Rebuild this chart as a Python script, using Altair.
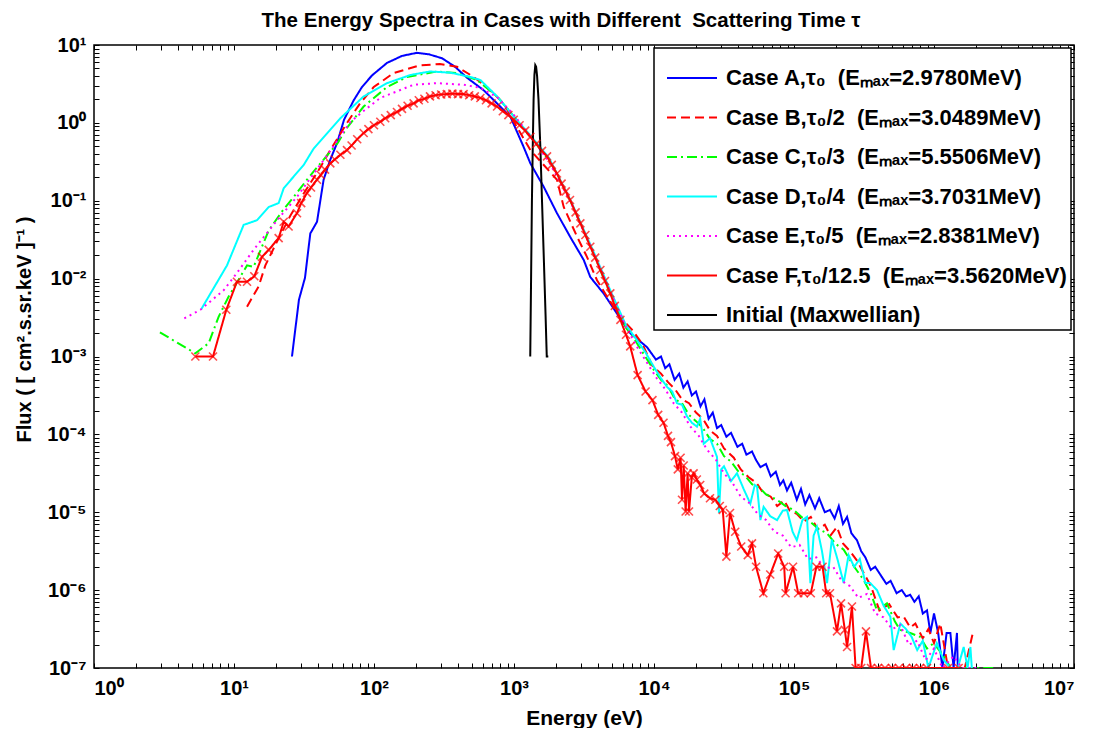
import altair as alt
import pandas as pd

FONT = "Liberation Sans, Arial, Helvetica, sans-serif"

# ---- data: pairs of (log10 Energy [eV], log10 Flux) ----
case_a = [(1.414,-3.0),(1.464,-2.27),(1.507,-1.99),(1.545,-1.42),(1.593,-1.27),(1.64,-0.73),(1.686,-0.48),(1.736,-0.26),
          (1.786,0.04),(1.855,0.29),(1.914,0.46),(1.986,0.61),(2.093,0.77),(2.2,0.86),(2.307,0.90),(2.393,0.88),(2.486,0.83),
          (2.579,0.72),(2.664,0.58),(2.783,0.42),(2.879,0.25),(2.974,0.08),(3.069,-0.31),(3.117,-0.52),(3.212,-0.82),
          (3.307,-1.16),(3.40,-1.46),(3.498,-1.76),(3.545,-1.98),(3.64,-2.19),(3.736,-2.45),(3.83,-2.70),(3.95,-2.88),
          (4.014,-3.04),(4.05,-3.00),(4.08,-3.15),(4.11,-3.10),(4.147,-3.30),(4.18,-3.22),(4.21,-3.40),(4.24,-3.32),
          (4.27,-3.50),(4.30,-3.45),(4.332,-3.64),(4.36,-3.55),(4.39,-3.80),(4.42,-3.72),(4.45,-3.92),(4.48,-3.88),
          (4.517,-4.03),(4.55,-3.98),(4.596,-4.16),(4.63,-4.12),(4.66,-4.26),(4.70,-4.22),(4.729,-4.33),(4.76,-4.42),
          (4.80,-4.38),(4.834,-4.54),(4.87,-4.48),(4.90,-4.65),(4.924,-4.59),(4.95,-4.72),(4.98,-4.62),(5.02,-4.84),
          (5.05,-4.70),(5.08,-4.90),(5.11,-4.78),(5.15,-4.95),(5.18,-4.82),(5.22,-5.00),(5.257,-4.97),(5.29,-5.08),
          (5.32,-4.92),(5.35,-5.15),(5.379,-5.06),(5.41,-5.27),(5.45,-5.36),(5.48,-5.50),(5.51,-5.58),(5.548,-5.74),
          (5.58,-5.70),(5.627,-5.83),(5.66,-5.92),(5.69,-5.88),(5.733,-6.04),(5.77,-6.00),(5.80,-6.08),(5.83,-6.06),
          (5.86,-6.15),(5.891,-6.08),(5.92,-6.30),(5.95,-6.26),(5.974,-6.55),(6.00,-6.30),(6.03,-6.55),(6.06,-7.0),
          (6.09,-6.55),(6.117,-6.55),(6.14,-7.0),(6.164,-6.55),(6.17,-7.0)]

case_b = [(1.093,-2.36),(1.176,-2.10),(1.224,-1.83),(1.30,-1.55),(1.40,-1.20),(1.50,-0.90),(1.60,-0.62),(1.688,-0.35),
          (1.80,-0.02),(1.90,0.25),(1.998,0.46),(2.14,0.64),(2.33,0.74),(2.47,0.755),(2.593,0.72),(2.712,0.59),(2.83,0.42),
          (2.926,0.25),(3.02,-0.05),(3.117,-0.35),(3.307,-0.73),(3.355,-1.08),(3.45,-1.46),(3.521,-1.72),(3.593,-2.02),
          (3.664,-2.23),(3.76,-2.50),(3.85,-2.67),(3.92,-2.85),(3.989,-3.12),(4.05,-3.22),(4.10,-3.33),(4.15,-3.42),
          (4.20,-3.55),(4.25,-3.60),(4.30,-3.72),(4.35,-3.80),(4.40,-3.95),(4.45,-4.02),(4.50,-4.18),(4.57,-4.30),
          (4.62,-4.45),(4.676,-4.55),(4.73,-4.62),(4.78,-4.75),(4.834,-4.80),(4.88,-4.92),(4.93,-4.85),(4.97,-4.98),
          (5.02,-5.02),(5.07,-5.12),(5.12,-5.06),(5.17,-5.22),(5.22,-5.16),(5.26,-5.30),(5.307,-5.19),(5.35,-5.40),
          (5.40,-5.50),(5.45,-5.62),(5.498,-5.78),(5.55,-5.95),(5.61,-6.26),(5.68,-6.18),(5.74,-6.35),(5.783,-6.34),
          (5.83,-6.48),(5.867,-6.43),(5.92,-6.62),(5.96,-6.50),(6.00,-6.68),(6.045,-6.43),(6.10,-7.0),(6.22,-7.0),
          (6.28,-6.53)]

case_c = [(0.471,-2.69),(0.724,-2.96),(0.819,-2.83),(0.89,-2.49),(0.962,-2.23),(1.093,-1.83),(1.14,-1.85),(1.248,-1.38),
          (1.35,-1.12),(1.44,-0.92),(1.521,-0.73),(1.617,-0.52),(1.74,-0.26),(1.80,-0.08),(1.926,0.21),(2.093,0.46),
          (2.236,0.59),(2.45,0.66),(2.593,0.64),(2.736,0.55),(2.879,0.34),(3.0,0.08),(3.117,-0.18),(3.26,-0.50),
          (3.40,-0.99),(3.55,-1.60),(3.70,-2.25),(3.80,-2.63),(3.85,-2.75),(3.92,-2.95),(3.99,-3.15),(4.05,-3.30),
          (4.10,-3.38),(4.15,-3.55),(4.20,-3.60),(4.25,-3.75),(4.30,-3.83),(4.35,-3.92),(4.40,-4.06),(4.45,-4.12),
          (4.50,-4.28),(4.55,-4.35),(4.60,-4.47),(4.65,-4.53),(4.70,-4.64),(4.75,-4.68),(4.80,-4.77),(4.879,-4.84),
          (4.94,-4.92),(4.998,-4.97),(5.06,-5.07),(5.12,-5.13),(5.18,-5.22),(5.236,-5.27),(5.30,-5.41),(5.355,-5.48),
          (5.43,-5.70),(5.498,-5.87),(5.55,-6.05),(5.593,-6.26),(5.664,-6.17),(5.72,-6.40),(5.757,-6.51),(5.83,-6.55),
          (5.90,-6.60),(5.95,-6.75),(5.998,-6.68),(6.07,-6.85),(6.12,-7.0),(6.43,-7.0)]

case_d = [(0.767,-2.39),(0.95,-1.83),(1.069,-1.31),(1.164,-1.25),(1.248,-1.08),(1.319,-1.03),(1.355,-0.84),(1.426,-0.69),
          (1.498,-0.54),(1.569,-0.33),(1.76,0.06),(1.926,0.34),(2.093,0.51),(2.26,0.615),(2.40,0.66),(2.545,0.645),
          (2.688,0.59),(2.76,0.55),(2.879,0.34),(3.0,0.08),(3.117,-0.16),(3.25,-0.45),(3.40,-0.98),(3.55,-1.58),
          (3.70,-2.20),(3.80,-2.60),(3.879,-2.79),(3.94,-2.95),(3.998,-3.13),(4.05,-3.28),(4.093,-3.39),(4.13,-3.45),
          (4.164,-3.60),(4.20,-3.62),(4.236,-3.77),(4.27,-3.85),(4.307,-3.90),(4.33,-3.80),(4.355,-4.12),(4.40,-4.05),
          (4.45,-4.29),(4.464,-5.01),(4.48,-4.45),(4.50,-4.41),(4.55,-4.60),(4.593,-4.50),(4.64,-4.70),(4.688,-4.89),
          (4.72,-4.65),(4.736,-4.67),(4.76,-5.10),(4.783,-4.93),(4.83,-5.05),(4.879,-5.10),(4.92,-4.98),(4.95,-4.97),
          (4.99,-5.25),(5.02,-5.36),(5.06,-5.10),(5.093,-5.06),(5.117,-5.91),(5.14,-5.30),(5.164,-5.19),(5.20,-5.50),
          (5.236,-5.91),(5.27,-5.35),(5.31,-5.60),(5.355,-5.91),(5.39,-5.55),(5.43,-5.70),(5.47,-5.60),(5.51,-5.91),
          (5.545,-5.91),(5.593,-6.00),(5.64,-6.20),(5.688,-6.34),(5.712,-6.77),(5.76,-6.43),(5.80,-6.50),(5.84,-6.60),
          (5.88,-6.77),(5.92,-6.65),(5.96,-7.0),(6.02,-6.68),(6.07,-6.90),(6.12,-7.0),(6.17,-7.0),(6.212,-6.73),
          (6.24,-7.0),(6.26,-6.73),(6.27,-7.0)]

case_e = [(0.645,-2.51),(0.76,-2.40),(0.926,-2.15),(1.02,-1.93),(1.14,-1.63),(1.224,-1.44),(1.331,-1.20),(1.45,-0.95),
          (1.55,-0.70),(1.68,-0.38),(1.83,0.01),(1.93,0.16),(2.045,0.32),(2.283,0.49),(2.45,0.51),(2.64,0.49),
          (2.76,0.45),(2.88,0.33),(3.0,0.10),(3.12,-0.18),(3.25,-0.50),(3.40,-1.00),(3.55,-1.60),(3.70,-2.22),
          (3.80,-2.62),(3.88,-2.88),(3.95,-3.08),(4.02,-3.28),(4.08,-3.42),(4.14,-3.60),(4.20,-3.72),(4.26,-3.90),
          (4.32,-4.02),(4.38,-4.20),(4.44,-4.32),(4.50,-4.50),(4.56,-4.62),(4.62,-4.80),(4.68,-4.88),(4.74,-5.02),
          (4.80,-5.10),(4.86,-5.25),(4.92,-5.30),(4.98,-5.45),(5.04,-5.42),(5.10,-5.60),(5.16,-5.58),(5.22,-5.72),
          (5.28,-5.70),(5.34,-5.88),(5.40,-5.95),(5.46,-6.10),(5.52,-6.05),(5.58,-6.30),(5.64,-6.35),(5.70,-6.50),
          (5.76,-6.45),(5.82,-6.70),(5.88,-6.65),(5.94,-6.90),(6.00,-6.75),(6.06,-7.0),(6.14,-6.85),(6.20,-7.0),(6.33,-7.0)]

case_f = [(0.724,-3.0),(0.85,-3.0),(0.945,-2.40),(1.021,-2.04),(1.093,-2.04),(1.145,-1.97),(1.20,-1.72),(1.248,-1.63),
          (1.319,-1.48),(1.355,-1.27),(1.39,-1.33),(1.45,-1.16),(1.48,-1.03),(1.521,-0.90),(1.55,-0.83),(1.593,-0.73),
          (1.62,-0.67),(1.65,-0.60),(1.688,-0.52),(1.72,-0.47),(1.76,-0.41),(1.807,-0.35),(1.84,-0.29),(1.88,-0.21),
          (1.926,-0.13),(1.96,-0.08),(2.00,-0.03),(2.045,0.015),(2.08,0.06),(2.12,0.10),(2.164,0.14),(2.20,0.18),
          (2.24,0.22),(2.283,0.25),(2.32,0.29),(2.36,0.31),(2.40,0.34),(2.44,0.355),(2.48,0.365),(2.52,0.37),
          (2.56,0.375),(2.60,0.37),(2.64,0.37),(2.68,0.355),(2.72,0.34),(2.76,0.32),(2.80,0.29),(2.84,0.25),
          (2.879,0.21),(2.92,0.15),(2.96,0.10),(2.998,0.04),(3.04,-0.03),(3.08,-0.10),(3.117,-0.18),(3.16,-0.27),
          (3.20,-0.36),(3.236,-0.43),(3.27,-0.54),(3.307,-0.65),(3.34,-0.78),(3.37,-0.88),(3.40,-0.99),(3.44,-1.15),
          (3.474,-1.29),(3.51,-1.44),(3.545,-1.59),(3.58,-1.73),(3.617,-1.89),(3.65,-2.03),(3.688,-2.19),(3.72,-2.35),
          (3.76,-2.53),(3.80,-2.72),(3.83,-2.87),(3.883,-3.24),(3.94,-3.45),(3.989,-3.56),(4.03,-3.75),(4.068,-3.85),
          (4.10,-4.02),(4.121,-4.10),(4.15,-4.28),(4.17,-4.45),(4.19,-4.30),(4.20,-4.84),(4.212,-4.40),(4.226,-4.99),
          (4.24,-4.50),(4.25,-4.99),(4.27,-4.55),(4.283,-4.50),(4.306,-4.58),(4.33,-4.65),(4.359,-4.76),(4.40,-4.82),
          (4.438,-4.84),(4.47,-4.92),(4.491,-4.97),(4.517,-5.57),(4.543,-5.01),(4.58,-5.25),(4.623,-5.44),(4.67,-5.55),
          (4.70,-5.40),(4.729,-5.70),(4.781,-6.04),(4.83,-5.80),(4.887,-5.53),(4.93,-5.70),(4.94,-6.04),(4.993,-5.70),
          (5.03,-6.04),(5.07,-6.04),(5.12,-6.04),(5.16,-5.70),(5.204,-5.70),(5.23,-6.04),(5.257,-6.04),(5.307,-6.53),
          (5.336,-6.17),(5.363,-6.51),(5.379,-6.73),(5.414,-6.21),(5.44,-7.0),(5.48,-7.0),(5.514,-6.53),(5.55,-7.0),
          (5.60,-7.0),(5.65,-7.0),(5.70,-7.0),(5.75,-7.0),(5.80,-7.0),(5.85,-7.0),(5.90,-7.0),(5.95,-7.0),(6.10,-7.0),
          (6.176,-7.0)]

initial = [(3.116,-3.0),(3.122,-2.0),(3.128,-1.0),(3.134,-0.3),(3.140,0.3),(3.146,0.62),(3.152,0.74),(3.158,0.72),
           (3.165,0.6),(3.175,0.3),(3.188,-0.3),(3.200,-1.0),(3.214,-1.8),(3.226,-2.5),(3.234,-3.0),(3.245,-3.0)]

NB = "\u00a0"
names = [
    f"Case A,τ₀{NB} (Eₘₐₓ=2.9780MeV)",
    f"Case B,τ₀/2{NB} (Eₘₐₓ=3.0489MeV)",
    f"Case C,τ₀/3{NB} (Eₘₐₓ=5.5506MeV)",
    f"Case D,τ₀/4{NB} (Eₘₐₓ=3.7031MeV)",
    f"Case E,τ₀/5{NB} (Eₘₐₓ=2.8381MeV)",
    f"Case F,τ₀/12.5{NB} (Eₘₐₓ=3.5620MeV)",
    "Initial (Maxwellian)",
]
series_points = [case_a, case_b, case_c, case_d, case_e, case_f, initial]
colors = ["#0000ff", "#ff0000", "#00ff00", "#00ffff", "#ff00ff", "#ff0000", "#000000"]
dashes = [[1, 0], [9, 5], [10, 4, 2, 4], [1, 0], [2, 4], [1, 0], [1, 0]]
widths = [2, 2, 2, 2, 2, 2, 3.5]

rows = []
for name, pts in zip(names, series_points):
    for j, (le, lf) in enumerate(pts):
        rows.append({"series": name, "E": 10 ** le, "flux": 10 ** lf, "idx": j})
df = pd.DataFrame(rows)
df_f = df[df["series"] == names[5]]

xvals = [m * 10 ** d for d in range(0, 7) for m in range(1, 10)] + [1e7]
yvals = [m * 10.0 ** d for d in range(-7, 1) for m in range(1, 10)] + [10]

sup = "['⁻⁷','⁻⁶','⁻⁵','⁻⁴','⁻³','⁻²','⁻¹','⁰','¹','²','³','⁴','⁵','⁶','⁷']"
lg = "(log(datum.value)/LN10)"
is_dec = f"abs({lg} - round({lg})) < 0.01"
label_expr = f"({is_dec}) ? ('10' + {sup}[round({lg}) + 7]) : ''"

TICK = 5
# inward-pointing ticks: the axis line is pulled inside by TICK, ticks run out to the frame
tick_style = dict(grid=False, domain=False, offset=-TICK, tickSize=TICK, tickColor="black", tickWidth=1)
label_style = dict(labelExpr=label_expr, labelFont=FONT, labelFontSize=20, labelFontWeight="bold",
                   labelColor="black", labelOverlap=False,
                   titleFont=FONT, titleFontWeight="bold", titleColor="black")

xscale = alt.Scale(type="log", domain=[1, 1e7], nice=False)
yscale = alt.Scale(type="log", domain=[1e-7, 10], nice=False)

x_bottom = alt.X("E:Q", scale=xscale,
                 axis=alt.Axis(orient="bottom", values=xvals, title="Energy (eV)", titleFontSize=21,
                               titlePadding=9, labelPadding=10, **tick_style, **label_style))
y_left = alt.Y("flux:Q", scale=yscale,
               axis=alt.Axis(orient="left", values=yvals, title="Flux ( [ cm².s.sr.keV ]⁻¹ )",
                             titleFontSize=20, titlePadding=12, titleY=284, labelPadding=8,
                             **tick_style, **label_style))
x_top = alt.X("E:Q", scale=xscale,
              axis=alt.Axis(orient="top", values=xvals, labels=False, title=None, **tick_style))
y_right = alt.Y("flux:Q", scale=yscale,
                axis=alt.Axis(orient="right", values=yvals, labels=False, title=None, **tick_style))

lines = alt.Chart(df).mark_line(clip=True).encode(
    x=x_bottom,
    y=y_left,
    color=alt.Color("series:N", scale=alt.Scale(domain=names, range=colors),
                    legend=alt.Legend(title=None)),
    strokeDash=alt.StrokeDash("series:N", scale=alt.Scale(domain=names, range=dashes),
                              legend=alt.Legend(title=None)),
    strokeWidth=alt.StrokeWidth("series:N", scale=alt.Scale(domain=names, range=widths), legend=None),
    order="idx:Q",
)

markers = alt.Chart(df_f).mark_point(
    shape="M-1,-1L1,1M1,-1L-1,1", filled=False, size=64, strokeWidth=1.6, color="#ff0000", clip=True
).encode(x=x_top, y=y_right)

chart = alt.layer(lines, markers).resolve_scale(
    x="independent", y="independent"
).properties(
    width=980,
    height=623,
    padding={"left": 6, "top": 2, "right": 0, "bottom": 0},
    title=alt.Title("The Energy Spectra in Cases with Different\u00a0 Scattering Time τ",
                    font=FONT, fontSize=20.5, fontWeight="bold", color="black",
                    offset=4, dx=-23, anchor="middle"),
).configure_view(
    stroke="black", strokeWidth=1.5
).configure_legend(
    orient="top-right", offset=3, fillColor="white", strokeColor="black", strokeWidth=1.5,
    padding=4, labelFont=FONT, labelFontSize=22, labelFontWeight="bold", labelColor="black",
    symbolType="stroke", symbolSize=2500, symbolStrokeWidth=2, symbolOffset=8, rowPadding=2.5,
    labelLimit=700, labelOffset=8, cornerRadius=0,
)

chart.save("out.html", embed_options={"renderer": "svg", "actions": False})
